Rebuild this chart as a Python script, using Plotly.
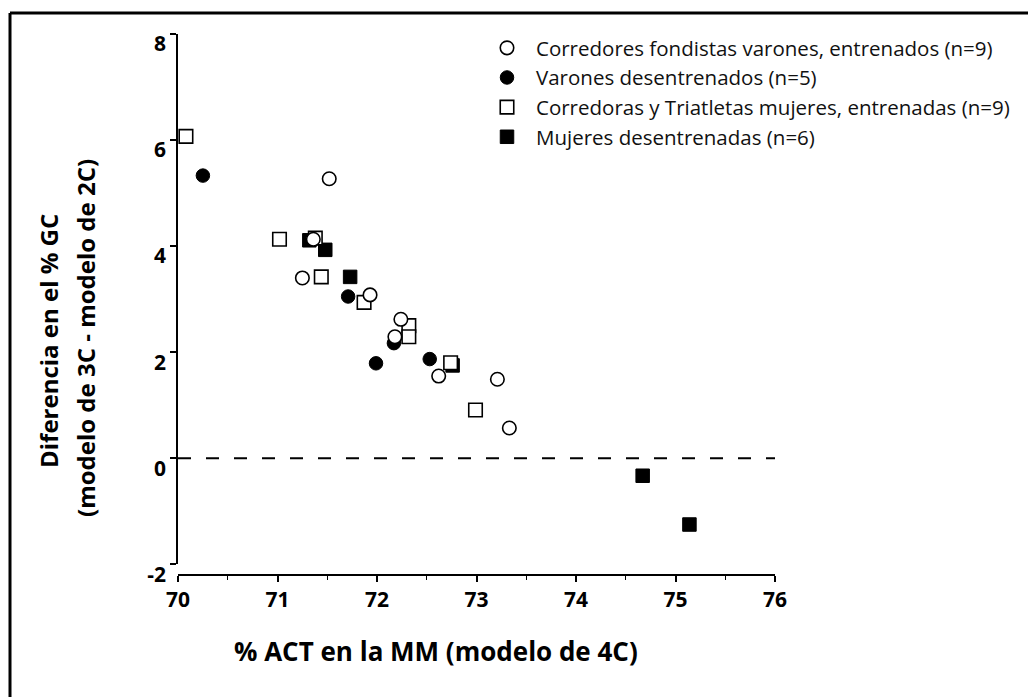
import plotly.graph_objects as go

# % ACT (4C model) vs difference in % GC (3C - 2C model), by group
trained_men_x = [71.52, 71.36, 71.25, 71.93, 72.24, 72.18, 72.62, 73.21, 73.33]
trained_men_y = [5.27, 4.13, 3.40, 3.08, 2.62, 2.29, 1.55, 1.49, 0.57]

untrained_men_x = [70.25, 71.71, 72.17, 71.99, 72.53]
untrained_men_y = [5.33, 3.05, 2.17, 1.79, 1.87]

trained_women_x = [70.08, 71.02, 71.38, 71.44, 71.87, 72.32, 72.32, 72.74, 72.99]
trained_women_y = [6.07, 4.13, 4.15, 3.42, 2.94, 2.50, 2.29, 1.80, 0.91]

untrained_women_x = [71.32, 71.48, 71.73, 72.76, 74.67, 75.14]
untrained_women_y = [4.11, 3.93, 3.42, 1.75, -0.33, -1.25]

x_ticks = [70, 71, 72, 73, 74, 75, 76]
y_ticks = [-2, 0, 2, 4, 6, 8]
y_ticktext = ["-2", "0", "2", "4", "6", "8"]

names = [
    "Corredores fondistas varones, entrenados (n=9)",
    "Varones desentrenados (n=5)",
    "Corredoras y Triatletas mujeres, entrenadas (n=9)",
    "Mujeres desentrenadas (n=6)",
]

FONT = "Open Sans"
W, H = 1032, 697
L, R, T, B = 178, 257, 34, 122
PW, PH = W - L - R, H - T - B


def px_x(p):
    return (p - L) / PW


def px_y(p):
    return (H - B - p) / PH


fig = go.Figure()

# zero reference line
fig.add_trace(go.Scatter(
    x=[x_ticks[0], x_ticks[-1]], y=[0, 0], mode="lines",
    line=dict(color="black", width=2, dash="13px,15px"),
    showlegend=False, hoverinfo="skip",
))

msize = 13.5
fig.add_trace(go.Scatter(
    x=untrained_women_x, y=untrained_women_y, mode="markers", name=names[3],
    legendrank=4,
    marker=dict(symbol="square", size=msize, color="black",
                line=dict(color="black", width=1)),
))
fig.add_trace(go.Scatter(
    x=untrained_men_x, y=untrained_men_y, mode="markers", name=names[1],
    legendrank=2,
    marker=dict(symbol="circle", size=msize, color="black",
                line=dict(color="black", width=1)),
))
fig.add_trace(go.Scatter(
    x=trained_women_x, y=trained_women_y, mode="markers", name=names[2],
    legendrank=3,
    marker=dict(symbol="square", size=msize, color="white",
                line=dict(color="black", width=1.6)),
))
fig.add_trace(go.Scatter(
    x=trained_men_x, y=trained_men_y, mode="markers", name=names[0],
    legendrank=1,
    marker=dict(symbol="circle", size=msize, color="white",
                line=dict(color="black", width=1.6)),
))

fig.update_layout(
    width=W, height=H,
    margin=dict(l=L, r=R, t=T, b=B, pad=0),
    paper_bgcolor="white", plot_bgcolor="white",
    font=dict(family=FONT, color="black"),
    showlegend=True,
    legend=dict(
        x=px_x(478), y=px_y(28), xanchor="left", yanchor="top",
        font=dict(family=FONT, size=20.5, color="#111"),
        bgcolor="rgba(0,0,0,0)", borderwidth=0,
        tracegroupgap=0, itemwidth=48,
    ),
    xaxis=dict(
        range=[x_ticks[0], x_ticks[-1]], anchor="free", position=0,
        tickmode="array", tickvals=x_ticks,
        showline=True, linecolor="black", linewidth=1.5,
        ticks="outside", ticklen=6, tickwidth=1.5, tickcolor="black",
        tickfont=dict(family=FONT, size=21, weight="bold"),
        minor=dict(tickmode="linear", tick0=70, dtick=0.5, ticks="outside",
                   ticklen=4, tickwidth=1.2, tickcolor="black", showgrid=False),
        showgrid=False, zeroline=False,
    ),
    yaxis=dict(
        range=[-2, 8], domain=[10.7 / PH, 1],
        tickmode="array", tickvals=y_ticks, ticktext=y_ticktext,
        showline=True, linecolor="black", linewidth=1.5,
        ticks="outside", ticklen=6, tickwidth=1.5, tickcolor="black",
        tickfont=dict(family=FONT, size=21, weight="bold"),
        ticklabelshift=10,
        showgrid=False, zeroline=False,
    ),
)

# axis titles
fig.add_annotation(
    text="% ACT en la MM (modelo de 4C)", xref="paper", yref="paper",
    x=px_x(436), y=px_y(651), xanchor="center", yanchor="middle",
    showarrow=False, font=dict(family=FONT, size=26, weight="bold"),
)
fig.add_annotation(
    text="Diferencia en el % GC", xref="paper", yref="paper",
    x=px_x(48), y=px_y(341), xanchor="center", yanchor="middle",
    textangle=-90, showarrow=False,
    font=dict(family=FONT, size=24, weight="bold"),
)
fig.add_annotation(
    text="(modelo de 3C - modelo de 2C)", xref="paper", yref="paper",
    x=px_x(85), y=px_y(338), xanchor="center", yanchor="middle",
    textangle=-90, showarrow=False,
    font=dict(family=FONT, size=24, weight="bold"),
)

# page frame
frame = dict(color="black", width=3)
fig.add_shape(type="line", xref="paper", yref="paper",
              x0=px_x(10), x1=px_x(1028), y0=px_y(13), y1=px_y(13), line=frame)
fig.add_shape(type="line", xref="paper", yref="paper",
              x0=px_x(10), x1=px_x(10), y0=px_y(13), y1=px_y(700), line=frame)

fig.write_html("out.html")
